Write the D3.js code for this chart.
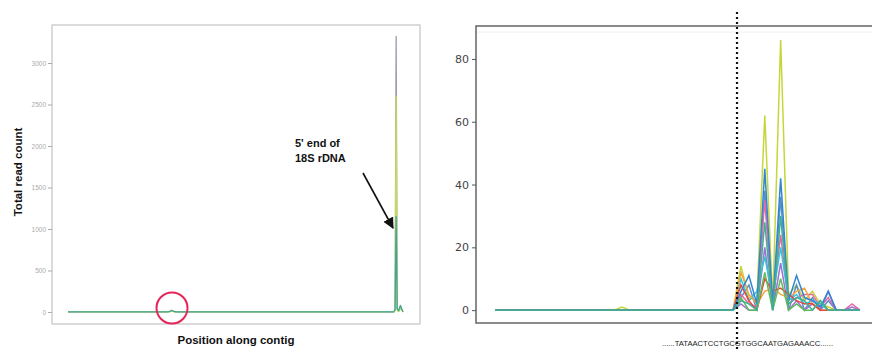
<!DOCTYPE html>
<html><head><meta charset="utf-8">
<script src="https://cdn.jsdelivr.net/npm/d3@7"></script>
<style>body{margin:0;background:#fff}svg{display:block}</style>
</head><body>
<script>
// ---------- DATA ----------
// Left panel: whole contig (bp positions), totals per sample
const leftPos    = [0, 560, 575, 590, 605, 620, 1840, 1852, 1860, 1866, 1872, 1880, 1890, 1905];
const leftGray   = [0, 0, 4, 20, 4, 0, 0, 0, 20, 3320, 30, 10, 60, 0];
const leftYellow = [0, 0, 0, 10, 0, 0, 0, 0, 15, 2600, 20, 5, 40, 0];
const leftTeal   = [0, 0, 3, 18, 3, 0, 0, 0, 30, 1150, 40, 15, 80, 0];
const leftTicks  = [0, 500, 1000, 1500, 2000, 2500, 3000];

// Right panel: zoom around the 5' end (position index)
const rightPos = d3.range(0, 47);
const rightTicks = [0, 20, 40, 60, 80];
const cutSite = 30.5;
const sequenceText = "......TATAACTCCTGCGTGGCAATGAGAAACC......";
const sYellow = [0,0,0,0,0,0,0,0,0,0, 0,0,0,0,0,0,1,0,0,0, 0,0,0,0,0,0,0,0,0,0, 0,14,4,3,62,2,86,5,8,3,6,2,1,0,0,0,0];
const sBlue   = [0,0,0,0,0,0,0,0,0,0, 0,0,0,0,0,0,0,0,0,0, 0,0,0,0,0,0,0,0,0,0, 0,6,11,2,45,1,42,3,11,4,3,1,6,0,0,0,0];
const sSteel  = [0,0,0,0,0,0,0,0,0,0, 0,0,0,0,0,0,0,0,0,0, 0,0,0,0,0,0,0,0,0,0, 0,4,8,0,38,0,36,0,8,0,4,0,3,0,0,0,0];
const sCyan   = [0,0,0,0,0,0,0,0,0,0, 0,0,0,0,0,0,0,0,0,0, 0,0,0,0,0,0,0,0,0,0, 0,10,3,6,17,4,20,3,5,2,3,2,0,0,0,0,0];
const sPink   = [0,0,0,0,0,0,0,0,0,0, 0,0,0,0,0,0,0,0,0,0, 0,0,0,0,0,0,0,0,0,0, 0,5,2,1,35,2,24,2,4,5,5,1,4,0,0,2,0];
const sRed    = [0,0,0,0,0,0,0,0,0,0, 0,0,0,0,0,0,0,0,0,0, 0,0,0,0,0,0,0,0,0,0, 0,8,3,0,10,6,7,5,3,2,2,0,0,0,0,0,0];
const sOrange = [0,0,0,0,0,0,0,0,0,0, 0,0,0,0,0,0,0,0,0,0, 0,0,0,0,0,0,0,0,0,0, 0,12,5,2,6,7,5,4,6,7,2,0,0,0,0,0,0];
const sTeal   = [0,0,0,0,0,0,0,0,0,0, 0,0,0,0,0,0,0,0,0,0, 0,0,0,0,0,0,0,0,0,0, 0,3,2,0,28,0,30,2,4,3,0,3,0,0,0,0,0];
const sPurple = [0,0,0,0,0,0,0,0,0,0, 0,0,0,0,0,0,0,0,0,0, 0,0,0,0,0,0,0,0,0,0, 0,2,0,0,20,0,15,0,3,0,2,0,6,0,0,1,0];
const sGreen  = [0,0,0,0,0,0,0,0,0,0, 0,0,0,0,0,0,0,0,0,0, 0,0,0,0,0,0,0,0,0,0, 0,4,0,0,12,0,10,0,2,0,0,3,0,0,0,0,0];

const rightSeries = [
  {v: sYellow, c: "#c6d63a"},
  {v: sSteel,  c: "#5b8fc9"},
  {v: sPink,   c: "#e46aa6"},
  {v: sPurple, c: "#a06fd0"},
  {v: sCyan,   c: "#38c6dc"},
  {v: sOrange, c: "#f2a642"},
  {v: sRed,    c: "#e8473a"},
  {v: sGreen,  c: "#5cbf5a"},
  {v: sBlue,   c: "#2f86d2"},
  {v: sTeal,   c: "#44ad96"}
];
const leftSeries = [
  {v: leftGray, c: "#9b9aa8"},
  {v: leftYellow, c: "#c8d85a"},
  {v: leftTeal, c: "#3fa894"}
];

// ---------- DRAW ----------
const svg = d3.select("body").append("svg").attr("width", 872).attr("height", 349)
  .style("font-family", "'Liberation Sans', Arial, sans-serif");

// Left panel
const L = {x0: 52, x1: 420, y0: 25, y1: 324};
const lx = d3.scaleLinear().domain([0, 1905]).range([68, 403]);
const ly = d3.scaleLinear().domain([-145, 3458]).range([L.y1, L.y0]);
svg.append("rect").attr("x", L.x0).attr("y", L.y0).attr("width", L.x1 - L.x0).attr("height", L.y1 - L.y0)
  .attr("fill", "none").attr("stroke", "#c4c4c4").attr("stroke-width", 1.2);
const lax = svg.append("g").attr("transform", `translate(${L.x0},0)`)
  .call(d3.axisLeft(ly).tickValues(leftTicks).tickFormat(d3.format("d")).tickSize(4).tickPadding(2));
lax.select(".domain").remove();
lax.selectAll("line").attr("stroke", "#aaa");
lax.selectAll("text").attr("fill", "#aaa").style("font-size", "6.5px");

const lline = d3.line().x((d, i) => lx(leftPos[i])).y(d => ly(d));
leftSeries.forEach(s => svg.append("path").attr("d", lline(s.v)).attr("fill", "none")
  .attr("stroke", s.c).attr("stroke-width", 1.3).attr("stroke-linejoin", "round"));

svg.append("circle").attr("cx", 172).attr("cy", 308).attr("r", 15.5)
  .attr("fill", "none").attr("stroke", "#e6245a").attr("stroke-width", 2);

svg.append("text").attr("transform", "translate(22,172) rotate(-90)").attr("text-anchor", "middle")
  .style("font-size", "11.5px").style("font-weight", "bold").attr("fill", "#111").text("Total read count");
svg.append("text").attr("x", 236).attr("y", 344).attr("text-anchor", "middle")
  .style("font-size", "11.5px").style("font-weight", "bold").attr("fill", "#111").text("Position along contig");
const ann = svg.append("text").style("font-size", "11px").style("font-weight", "bold").attr("fill", "#111");
ann.append("tspan").attr("x", 295).attr("y", 147).text("5' end of");
ann.append("tspan").attr("x", 295).attr("y", 162).text("18S rDNA");

svg.append("defs").append("marker").attr("id", "ah").attr("viewBox", "0 0 10 10")
  .attr("refX", 9).attr("refY", 5).attr("markerWidth", 7).attr("markerHeight", 7).attr("orient", "auto")
  .append("path").attr("d", "M0,0 L10,5 L0,10 z").attr("fill", "#111");
svg.append("line").attr("x1", 363).attr("y1", 173).attr("x2", 393).attr("y2", 228)
  .attr("stroke", "#111").attr("stroke-width", 1.6).attr("marker-end", "url(#ah)");

// Right panel
const R = {x0: 476, x1: 880, y0: 26, y1: 323};
const rx = d3.scaleLinear().domain([0, 46]).range([495, 860]);
const ry = d3.scaleLinear().domain([-4.1, 90.5]).range([R.y1, R.y0]);
svg.append("line").attr("x1", R.x0).attr("x2", 872).attr("y1", 32).attr("y2", 32).attr("stroke", "#f0f0f0");
svg.append("rect").attr("x", R.x0).attr("y", R.y0).attr("width", R.x1 - R.x0).attr("height", R.y1 - R.y0)
  .attr("fill", "none").attr("stroke", "#6e6e6e").attr("stroke-width", 1.6);
const rax = svg.append("g").attr("transform", `translate(${R.x0},0)`)
  .call(d3.axisLeft(ry).tickValues(rightTicks).tickSize(4).tickPadding(3));
rax.select(".domain").remove();
rax.selectAll("line").attr("stroke", "#555");
rax.selectAll("text").attr("fill", "#444").style("font-size", "11px").style("font-family", "'DejaVu Sans', sans-serif");

const rline = d3.line().x((d, i) => rx(rightPos[i])).y(d => ry(d));
rightSeries.forEach(s => svg.append("path").attr("d", rline(s.v)).attr("fill", "none")
  .attr("stroke", s.c).attr("stroke-width", 1.5).attr("stroke-linejoin", "miter"));

svg.append("line").attr("x1", rx(cutSite)).attr("x2", rx(cutSite)).attr("y1", 12).attr("y2", 349)
  .attr("stroke", "#111").attr("stroke-width", 2.2).attr("stroke-dasharray", "2,3");

svg.append("text").attr("x", 662).attr("y", 346).attr("textLength", 171).attr("lengthAdjust", "spacingAndGlyphs")
  .style("font-size", "8px").attr("fill", "#222").text(sequenceText);
</script>
</body></html>
